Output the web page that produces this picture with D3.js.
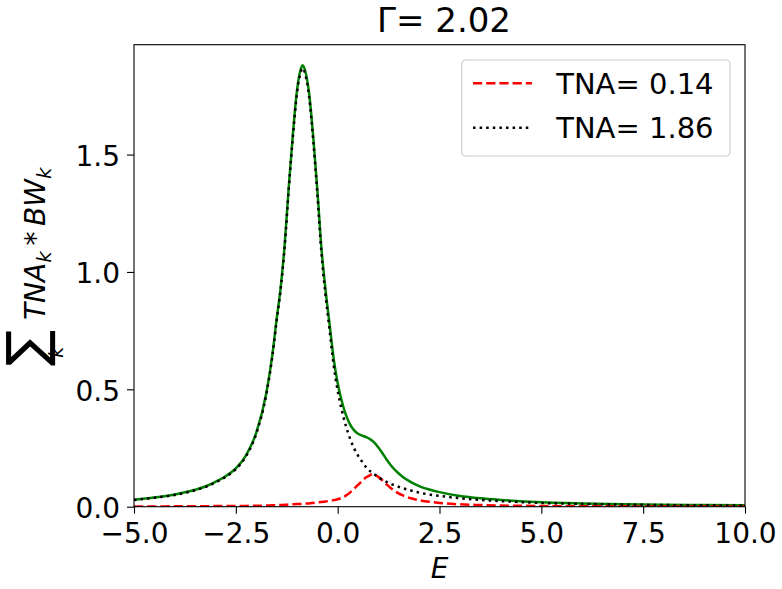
<!DOCTYPE html>
<html>
<head>
<meta charset="utf-8">
<script src="https://cdnjs.cloudflare.com/ajax/libs/d3/7.8.5/d3.min.js"></script>
<style>
  body { margin: 0; background: #fff; }
  svg { font-family: "DejaVu Sans", sans-serif; }
</style>
</head>
<body>
<script>
var E = [-5, -4.5, -4, -3.5, -3.25, -3, -2.75, -2.5, -2.25, -2, -1.75, -1.6, -1.5, -1.4, -1.3, -1.2,
  -1.1, -1.0, -0.9, -0.86, -0.8, -0.7, -0.6, -0.5, -0.4, -0.3, -0.2, -0.1, 0, 0.1, 0.2, 0.3, 0.4, 0.5,
  0.6, 0.7, 0.8, 0.85, 0.9, 1.0, 1.1, 1.2, 1.3, 1.4, 1.6, 1.8, 2.0, 2.25, 2.5, 3, 3.5, 4, 5, 6, 7, 8, 9, 10];

// red dashed, TNA = 0.14
var tnaSmall = [0.001, 0.0012, 0.0015, 0.002, 0.0023, 0.0025, 0.0028, 0.003, 0.0035, 0.004, 0.005,
  0.006, 0.0065, 0.007, 0.008, 0.009, 0.010, 0.011, 0.012, 0.0125, 0.013, 0.014, 0.016, 0.018, 0.020,
  0.022, 0.025, 0.028, 0.032, 0.038, 0.047, 0.060, 0.076, 0.093, 0.110, 0.125, 0.135, 0.139, 0.137,
  0.127, 0.112, 0.095, 0.080, 0.067, 0.048, 0.036, 0.028, 0.021, 0.016, 0.010, 0.007, 0.005, 0.003,
  0.002, 0.0015, 0.001, 0.001, 0.001];

// black dotted, TNA = 1.86
var tnaLarge = [0.029, 0.038, 0.050, 0.070, 0.084, 0.103, 0.127, 0.160, 0.215, 0.310, 0.480, 0.645,
  0.790, 0.925, 1.110, 1.355, 1.575, 1.760, 1.855, 1.868, 1.845, 1.745, 1.560, 1.335, 1.085, 0.905,
  0.755, 0.605, 0.495, 0.412, 0.345, 0.292, 0.250, 0.218, 0.192, 0.168, 0.151, 0.145, 0.138, 0.125,
  0.115, 0.106, 0.098, 0.091, 0.079, 0.069, 0.060, 0.052, 0.046, 0.036, 0.029, 0.024, 0.016, 0.012,
  0.009, 0.007, 0.006, 0.005];

// green solid, total
var total = [0.030, 0.039, 0.052, 0.072, 0.086, 0.106, 0.130, 0.163, 0.219, 0.314, 0.485, 0.651,
  0.797, 0.932, 1.118, 1.364, 1.585, 1.771, 1.867, 1.880, 1.858, 1.759, 1.576, 1.353, 1.105, 0.927,
  0.780, 0.633, 0.527, 0.450, 0.392, 0.352, 0.326, 0.311, 0.303, 0.296, 0.287, 0.281, 0.273, 0.252,
  0.228, 0.201, 0.178, 0.158, 0.127, 0.105, 0.088, 0.073, 0.062, 0.046, 0.036, 0.029, 0.019, 0.014,
  0.0105, 0.008, 0.007, 0.006];

var xTicks = [-5, -2.5, 0, 2.5, 5, 7.5, 10];
var yTicks = [0, 0.5, 1.0, 1.5];
var legendLabels = ["TNA= 0.14", "TNA= 1.86"];
var title = "\u0393= 2.02";

var margin = {top: 44.7, right: 37, bottom: 82.3, left: 134},
    width = 782 - margin.left - margin.right,
    height = 589 - margin.top - margin.bottom;

var x = d3.scaleLinear().domain([-5, 10]).range([0, width]);
var y = d3.scaleLinear().domain([0, 1.968]).range([height, 0]);

var svg = d3.select("body").append("svg")
    .attr("width", 782)
    .attr("height", 589);

var g = svg.append("g")
    .attr("transform", "translate(" + margin.left + "," + margin.top + ")");

g.append("clipPath").attr("id", "clip")
  .append("rect").attr("width", width).attr("height", height);

var fmt = function(d) { return d.toFixed(1).replace("-", "\u2212"); };

function line(vals) {
  return d3.line()
    .x(function(d, i) { return x(E[i]); })
    .y(function(d) { return y(d); })
    .curve(d3.curveMonotoneX)(vals);
}

var lw = 2.5;
var dashed = "9.2,4", dotted = "2.5,4.1";
var plot = g.append("g").attr("clip-path", "url(#clip)");
plot.append("path").attr("d", line(total))
    .attr("fill", "none").attr("stroke", "green").attr("stroke-width", lw);
plot.append("path").attr("d", line(tnaSmall))
    .attr("fill", "none").attr("stroke", "red").attr("stroke-width", lw)
    .attr("stroke-dasharray", dashed);
plot.append("path").attr("d", line(tnaLarge))
    .attr("fill", "none").attr("stroke", "black").attr("stroke-width", lw)
    .attr("stroke-dasharray", dotted);

// axes
var xAxis = g.append("g")
    .attr("transform", "translate(0," + height + ")")
    .call(d3.axisBottom(x).tickValues(xTicks).tickFormat(fmt).tickSize(7).tickSizeOuter(0).tickPadding(9));
var yAxis = g.append("g")
    .call(d3.axisLeft(y).tickValues(yTicks).tickFormat(function(d) { return d.toFixed(1); })
      .tickSize(7).tickSizeOuter(0).tickPadding(7));
[xAxis, yAxis].forEach(function(a) {
  a.selectAll("text").attr("font-size", 28).attr("font-family", "DejaVu Sans").attr("fill", "#000");
  a.selectAll("line").attr("stroke-width", 1.1).attr("stroke", "#000");
  a.select(".domain").remove();
});
yAxis.selectAll("text").attr("dy", "0.39em");

g.append("rect")
    .attr("width", width).attr("height", height)
    .attr("fill", "none").attr("stroke", "#000").attr("stroke-width", 1.1);

// title and x label
svg.append("text")
    .attr("x", 444).attr("y", 31.7)
    .attr("text-anchor", "middle").attr("font-size", 34)
    .text(title);

svg.append("text")
    .attr("x", margin.left + width / 2).attr("y", 578)
    .attr("text-anchor", "middle").attr("font-size", 28).attr("font-style", "italic")
    .text("E");

// y label, mathtext-like pieces laid out along the rotated baseline
var yl = svg.append("g").attr("transform", "translate(45,366) rotate(-90)");
yl.append("text").attr("x", 0).attr("y", 0).attr("font-size", 54).text("\u2211");
yl.append("text").attr("x", 8).attr("y", 18).attr("font-size", 20).attr("font-style", "italic").text("k");
var pieces = [
  {t: "TNA", s: 28, it: true, dy: 0},
  {t: "k", s: 20, it: true, dy: 6},
  {t: "\u2009*\u2009", s: 28, it: false, dy: 0},
  {t: "BW", s: 28, it: true, dy: 0},
  {t: "k", s: 20, it: true, dy: 6}
];
var cx = 46;
pieces.forEach(function(p) {
  var t = yl.append("text").attr("x", cx).attr("y", p.dy)
      .attr("font-size", p.s).attr("font-style", p.it ? "italic" : "normal").text(p.t);
  cx += t.node().getComputedTextLength();
});

// legend
var lg = g.append("g").attr("transform", "translate(" + (461.7 - margin.left) + "," + (60 - margin.top) + ")");
lg.append("rect")
    .attr("width", 268.3).attr("height", 96).attr("rx", 4)
    .attr("fill", "#fff").attr("fill-opacity", 0.8)
    .attr("stroke", "#cccccc").attr("stroke-width", 1.1);
var styles = [{c: "red", d: dashed}, {c: "black", d: dotted}];
legendLabels.forEach(function(lab, i) {
  var yy = 23.3 + i * 44.4;
  lg.append("line").attr("x1", 11.3).attr("x2", 70.3).attr("y1", yy).attr("y2", yy)
    .attr("stroke", styles[i].c).attr("stroke-width", lw).attr("stroke-dasharray", styles[i].d);
  lg.append("text").attr("x", 94.5).attr("y", yy + 10.5).attr("font-size", 29).text(lab);
});
</script>
</body>
</html>
